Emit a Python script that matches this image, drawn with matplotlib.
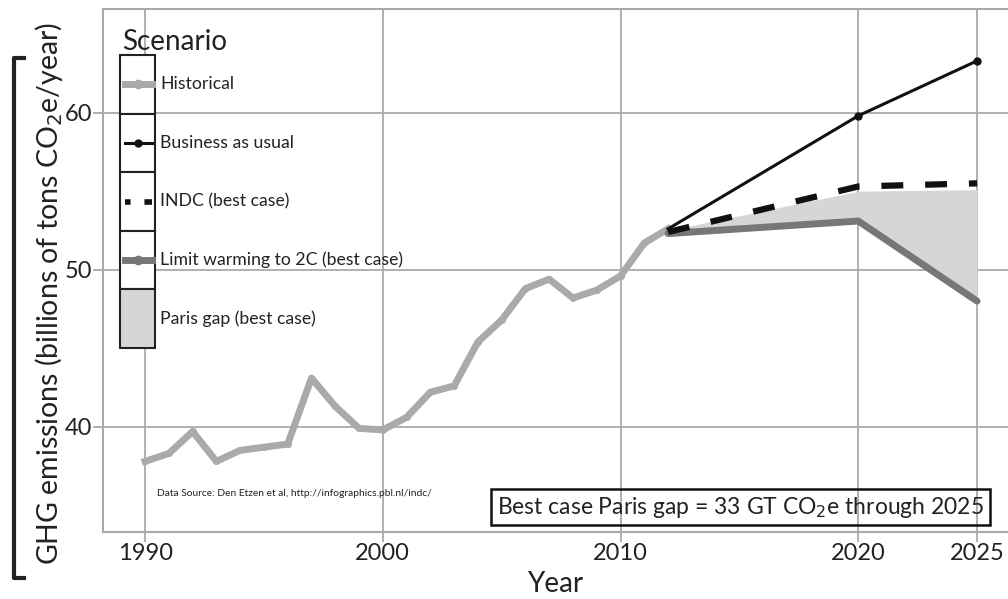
import matplotlib
matplotlib.use("Agg")
import matplotlib.pyplot as plt
from matplotlib.patches import Rectangle
from matplotlib.lines import Line2D

plt.rcParams['font.family'] = ['Lato', 'DejaVu Sans']

# historical emissions (GT CO2e / year)
hist_years = list(range(1990, 2013))
hist_vals = [37.8, 38.3, 39.7, 37.8, 38.5, 38.7, 38.9, 43.1, 41.3, 39.9, 39.8,
             40.6, 42.2, 42.6, 45.4, 46.8, 48.8, 49.4, 48.2, 48.7, 49.6, 51.7, 52.6]

proj_years = [2012, 2020, 2025]
bau_vals = [52.6, 59.8, 63.3]
indc_vals = [52.4, 55.3, 55.5]
limit2c_vals = [52.3, 53.1, 48.0]
gap_top = [52.5, 55.0, 55.1]

xticks = [1990, 2000, 2010, 2020, 2025]
yticks = [40, 50, 60]

legend_labels = ['Historical', 'Business as usual', 'INDC (best case)',
                 'Limit warming to 2C (best case)', 'Paris gap (best case)']

W, H = 1008, 599
fig = plt.figure(figsize=(W / 100, H / 100), dpi=100)
ax = fig.add_axes([103 / W, 1 - 532 / H, (W - 103) / W, 523 / H])

grid_c = '#aaaaaa'
ax.fill_between(proj_years, limit2c_vals, gap_top, color='#d6d6d6', lw=0, zorder=2)
ax.plot(hist_years, hist_vals, color='#aaaaaa', lw=5, marker='o', ms=4, zorder=3)
ax.plot(proj_years, limit2c_vals, color='#777777', lw=5, solid_capstyle='round', zorder=4)
ax.plot(proj_years, indc_vals, color='#111111', lw=4.5, ls=(0, (3.5, 3.5)), zorder=5)
ax.plot(proj_years, bau_vals, color='#111111', lw=2.2, marker='o', ms=5,
        markevery=[1, 2], zorder=6)

ax.set_xlim(1988.23, 2026.3)
ax.set_ylim(33.3, 66.6)
ax.set_xticks(xticks)
ax.set_yticks(yticks)
ax.grid(True, color=grid_c, lw=1.3, zorder=0)
ax.set_axisbelow(True)
ax.tick_params(colors=grid_c, labelcolor='#222222', labelsize=17, length=7, width=1.3)
ax.tick_params(axis='y', pad=1)
ax.tick_params(axis='x', pad=1)
for s in ['left', 'bottom', 'top']:
    ax.spines[s].set_color(grid_c)
    ax.spines[s].set_linewidth(1.5)
ax.spines['right'].set_visible(False)

ax.set_xlabel('Year', fontsize=20, color='#222222', labelpad=5)

def fx(px):
    return px / W

def fy(py):
    return 1 - py / H

# y label with bracket
fig.text(fx(49), fy(293), 'GHG emissions (billions of tons CO$_2$e/year)',
         rotation=90, ha='center', va='center', fontsize=20.5, color='#222222')
fig.add_artist(Line2D([fx(24), fx(14), fx(14), fx(24)],
                      [fy(58), fy(58), fy(578), fy(578)], color='#222222', lw=3))

# legend drawn as a column of key boxes
fig.text(fx(122), fy(42), 'Scenario', fontsize=20, color='#222222', va='center')
cell_h = 58.6
top = 55
for i, lab in enumerate(legend_labels):
    y0 = top + i * cell_h
    fc = '#d6d6d6' if i == 4 else 'white'
    fig.add_artist(Rectangle((fx(120), fy(y0 + cell_h)), fx(35), cell_h / H,
                             facecolor=fc, edgecolor='#222222', lw=1.5, zorder=10))
    yc = fy(y0 + cell_h / 2)
    fig.text(fx(160), yc, lab, fontsize=12.7, color='#222222', va='center', zorder=11)
    xs3 = [fx(125), fx(138), fx(152)]
    if i == 0:
        fig.add_artist(Line2D(xs3, [yc] * 3, color='#aaaaaa', lw=5, marker='o', ms=6,
                              markevery=[1], zorder=11))
    elif i == 1:
        fig.add_artist(Line2D(xs3, [yc] * 3, color='#111111', lw=2.2,
                              marker='o', ms=5, markevery=[1], zorder=11))
    elif i == 2:
        fig.add_artist(Line2D([fx(125), fx(152)], [yc, yc], color='#111111', lw=4,
                              ls=(0.5, (1.5, 2.5)), zorder=11))
    elif i == 3:
        fig.add_artist(Line2D(xs3, [yc] * 3, color='#777777', lw=5, marker='o', ms=6,
                              markevery=[1], zorder=11))

ax.text(fx(157), fy(493), 'Data Source: Den Etzen et al, http://infographics.pbl.nl/indc/',
        transform=fig.transFigure, fontsize=7.4, color='#222222', va='center')
ax.text(fx(497), fy(507), 'Best case Paris gap = 33 GT CO$_2$e through 2025',
        transform=fig.transFigure, fontsize=16.5, color='#222222', va='center',
        bbox=dict(boxstyle='square,pad=0.25', facecolor='none', edgecolor='#111111', lw=1.8))

fig.savefig('out.png', dpi=100)
